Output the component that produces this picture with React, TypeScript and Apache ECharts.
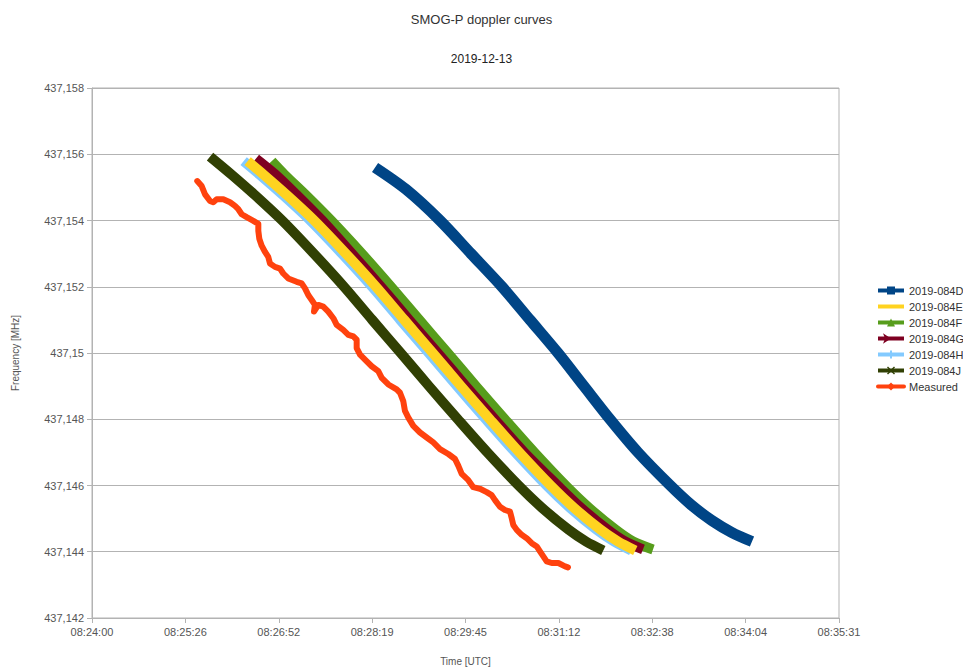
import React, { useEffect, useRef } from "react";
import * as echarts from "echarts";

// x values: seconds after 08:24:00 UTC; y values: frequency in MHz
const xTickStartLabel = "08:24:00";
const seriesNames = ["2019-084D", "2019-084E", "2019-084F", "2019-084G", "2019-084H", "2019-084J", "Measured"];

const sat084D = [[261.9, 437.1556], [290.5, 437.15494], [322.0, 437.154], [350.7, 437.153], [379.4, 437.152], [405.3, 437.151], [431.2, 437.150], [455.2, 437.149], [479.3, 437.148], [505.2, 437.147], [534.8, 437.14601], [554.3, 437.14542], [573.7, 437.14494], [592.2, 437.14458], [610.7, 437.14431]];
const sat084E = [[144.0, 437.15579], [158.6, 437.15539], [179.6, 437.15479], [205.6, 437.154], [234.9, 437.153], [262.8, 437.152], [288.9, 437.151], [315.3, 437.150], [341.4, 437.149], [368.1, 437.148], [395.4, 437.147], [424.4, 437.146], [445.9, 437.14533], [470.4, 437.14467], [486.7, 437.14431], [502.7, 437.14404]];
const sat084F = [[166.3, 437.15579], [178.0, 437.15539], [197.2, 437.15479], [221.3, 437.154], [249.7, 437.153], [276.7, 437.152], [302.8, 437.151], [329.2, 437.150], [355.3, 437.149], [382.0, 437.148], [409.3, 437.147], [438.3, 437.146], [459.8, 437.14533], [484.3, 437.14467], [500.6, 437.14431], [519.1, 437.14407]];
const sat084G = [[151.7, 437.15587], [169.7, 437.15539], [188.9, 437.15479], [213.0, 437.154], [240.5, 437.153], [267.4, 437.152], [293.5, 437.151], [319.9, 437.150], [346.0, 437.149], [372.7, 437.148], [400.0, 437.147], [430.9, 437.146], [452.4, 437.14533], [476.9, 437.14467], [493.2, 437.14431], [509.8, 437.14407]];
const sat084H = [[140.3, 437.15579], [154.9, 437.15539], [175.9, 437.15479], [201.9, 437.154], [231.2, 437.153], [259.1, 437.152], [285.2, 437.151], [311.6, 437.150], [337.7, 437.149], [364.4, 437.148], [391.7, 437.147], [420.7, 437.146], [442.2, 437.14533], [466.7, 437.14467], [483.0, 437.14431], [499.0, 437.14404]];
const sat084J = [[109.2, 437.15593], [129.0, 437.15539], [150.0, 437.15479], [176.0, 437.154], [205.3, 437.153], [233.2, 437.152], [259.3, 437.151], [285.7, 437.150], [311.8, 437.149], [338.5, 437.148], [365.8, 437.147], [394.8, 437.146], [416.3, 437.14533], [440.8, 437.14467], [457.1, 437.14431], [473.1, 437.14404]];
const measured = [
  [97.4, 437.15519], [101.5, 437.15504], [104.6, 437.15479], [109.2, 437.15459], [112.2, 437.15455],
  [115.4, 437.15464], [121.5, 437.15464], [127.7, 437.15455], [132.3, 437.15444], [135.4, 437.15434],
  [138.5, 437.15419], [143.1, 437.1541], [149.3, 437.15399], [153.9, 437.1539], [153.9, 437.15369],
  [154.8, 437.15345], [157.0, 437.15324], [160.1, 437.15305], [163.1, 437.1529], [164.7, 437.1527],
  [169.3, 437.1526], [174.0, 437.15255], [177.0, 437.1524], [181.6, 437.15225], [189.4, 437.15215],
  [194.0, 437.1521], [197.1, 437.15195], [200.1, 437.15175], [203.3, 437.1516], [206.3, 437.15145],
  [205.4, 437.15125], [209.4, 437.15145], [214.0, 437.1514], [218.6, 437.15125], [223.3, 437.15105],
  [226.4, 437.15085], [232.5, 437.1507], [237.2, 437.15055], [241.8, 437.1505], [244.9, 437.1504],
  [244.9, 437.15015], [248.0, 437.14995], [252.6, 437.1498], [258.8, 437.1496], [264.9, 437.14945],
  [268.1, 437.14925], [274.2, 437.14905], [281.9, 437.1489], [285.0, 437.1488], [288.0, 437.14855],
  [289.6, 437.14825], [292.7, 437.14805], [297.3, 437.1478], [303.5, 437.1476], [309.7, 437.14745],
  [315.8, 437.1473], [322.0, 437.1471], [329.7, 437.14695], [335.9, 437.1468], [338.9, 437.1466],
  [342.1, 437.14635], [348.2, 437.14616], [352.8, 437.14595], [359.0, 437.1459], [365.2, 437.1458],
  [369.8, 437.14571], [372.9, 437.14556], [377.5, 437.14536], [382.1, 437.14526], [386.8, 437.14521],
  [388.4, 437.14501], [389.8, 437.14481], [393.0, 437.14466], [397.6, 437.14451], [402.2, 437.14441],
  [406.9, 437.14426], [411.5, 437.14416], [414.5, 437.14401], [417.6, 437.14386], [420.7, 437.14371],
  [425.4, 437.14366], [431.5, 437.14366], [437.7, 437.14356], [440.4, 437.14353]
];

const colors = ["#004586", "#ffd320", "#579d1c", "#7e0021", "#83caff", "#314004", "#ff420e"];
const plusPath = "path://M3,0H5V3H8V5H5V8H3V5H0V3H3Z";
const crossPath = "path://M0,1L1,0L4,3L7,0L8,1L5,4L8,7L7,8L4,5L1,8L0,7L3,4Z";

function fmtTime(v: number): string {
  const [h0, m0, s0] = xTickStartLabel.split(":").map(Number);
  const total = h0 * 3600 + m0 * 60 + s0 + Math.floor(v + 1e-6);
  const h = Math.floor(total / 3600);
  const m = Math.floor((total % 3600) / 60);
  const s = total % 60;
  const p = (n: number) => String(n).padStart(2, "0");
  return `${p(h)}:${p(m)}:${p(s)}`;
}

function fmtFreq(v: number): string {
  let t = v.toFixed(3);
  t = t.replace(/0+$/, "").replace(/\.$/, "");
  return t.replace(".", ",");
}

export default function App() {
  const ref = useRef<HTMLDivElement>(null);
  useEffect(() => {
    if (!ref.current) return;
    const chart = echarts.init(ref.current, null, { renderer: "svg" });
    const font = "'Liberation Sans', Arial, sans-serif";
    const mk = (idx: number, data: number[][], width: number, symbol: string, extra: any = {}) => ({
      name: seriesNames[idx],
      type: "line",
      data,
      color: colors[idx],
      symbol,
      symbolSize: 8,
      showSymbol: false,
      smooth: idx === 6 ? false : 0.3,
      lineStyle: { width, color: colors[idx], join: "round", cap: idx === 6 ? "round" : "butt" },
      itemStyle: { color: colors[idx] },
      emphasis: { disabled: true },
      ...extra,
    });
    const legendData = seriesNames.map((n, i) => (i === 1 ? { name: n, itemStyle: { opacity: 0 } } : { name: n }));
    chart.setOption({
      animation: false,
      backgroundColor: "#ffffff",
      textStyle: { fontFamily: font },
      title: [
        { text: "SMOG-P doppler curves", left: "center", top: 8, textStyle: { fontSize: 13, fontWeight: "normal", color: "#333", fontFamily: font } },
        { text: "2019-12-13", left: "center", top: 48, textStyle: { fontSize: 12, fontWeight: "normal", color: "#222", fontFamily: font } },
      ],
      legend: {
        orient: "vertical",
        left: 876,
        top: 285,
        padding: 0,
        itemWidth: 26,
        itemHeight: 10,
        itemGap: 5,
        data: legendData,
        lineStyle: { width: 4 },
        textStyle: { fontSize: 11, color: "#333", fontFamily: font },
      },
      grid: { left: 92, right: 124, top: 88, bottom: 49, show: true, borderColor: "#b3b3b3", borderWidth: 1 },
      xAxis: {
        type: "value",
        min: 0,
        max: 691.2,
        interval: 86.4,
        name: "Time [UTC]",
        nameLocation: "middle",
        nameGap: 38,
        nameTextStyle: { fontSize: 10, color: "#555", fontFamily: font },
        axisLine: { lineStyle: { color: "#b3b3b3" } },
        axisTick: { show: true, length: 5, lineStyle: { color: "#b3b3b3" } },
        axisLabel: { formatter: fmtTime, fontSize: 11, color: "#555", margin: 8, fontFamily: font },
        splitLine: { show: false },
      },
      yAxis: {
        type: "value",
        min: 437.142,
        max: 437.158,
        interval: 0.002,
        name: "Frequency [MHz]",
        nameLocation: "middle",
        nameGap: 72,
        nameTextStyle: { fontSize: 10, color: "#555", fontFamily: font },
        axisLine: { show: true, lineStyle: { color: "#b3b3b3" } },
        axisTick: { show: true, length: 5, lineStyle: { color: "#b3b3b3" } },
        axisLabel: { formatter: fmtFreq, fontSize: 11, color: "#555", margin: 8, fontFamily: font },
        splitLine: { show: true, lineStyle: { color: "#b3b3b3", width: 1 } },
      },
      series: [
        mk(0, sat084D, 11, "rect"),
        mk(2, sat084F, 10, "triangle"),
        mk(3, sat084G, 10, "arrow", { symbolRotate: -90 }),
        mk(4, sat084H, 10, plusPath),
        mk(1, sat084E, 10, "circle"),
        mk(5, sat084J, 10, crossPath),
        mk(6, measured, 6, "diamond"),
      ],
    });
    return () => chart.dispose();
  }, []);
  return <div ref={ref} style={{ position: "fixed", left: 0, top: 0, width: 963, height: 671 }} />;
}
